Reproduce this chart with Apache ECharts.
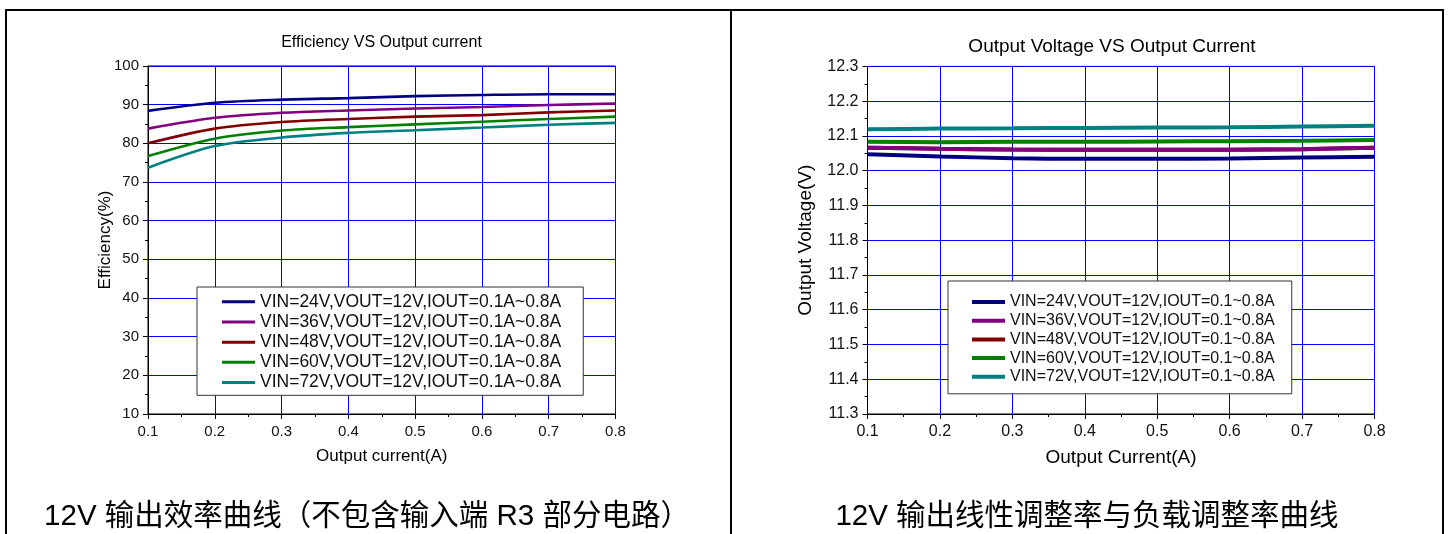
<!DOCTYPE html>
<html>
<head>
<meta charset="utf-8">
<script src="https://cdn.jsdelivr.net/npm/echarts@6/dist/echarts.min.js"></script>
<style>
html,body{margin:0;padding:0;background:#fff;}
#c{width:1451px;height:534px;}
</style>
</head>
<body>
<div id="c"></div>
<script>
// ---------- data ----------
const currents = [0.1, 0.2, 0.3, 0.4, 0.5, 0.6, 0.7, 0.8];

const effNames = [
  'VIN=24V,VOUT=12V,IOUT=0.1A~0.8A',
  'VIN=36V,VOUT=12V,IOUT=0.1A~0.8A',
  'VIN=48V,VOUT=12V,IOUT=0.1A~0.8A',
  'VIN=60V,VOUT=12V,IOUT=0.1A~0.8A',
  'VIN=72V,VOUT=12V,IOUT=0.1A~0.8A'
];
const eff24 = [88.4, 90.5, 91.3, 91.7, 92.2, 92.5, 92.7, 92.7];
const eff36 = [83.8, 86.6, 87.9, 88.5, 89.0, 89.4, 89.9, 90.3];
const eff48 = [80.0, 83.8, 85.5, 86.3, 86.9, 87.3, 88.0, 88.5];
const eff60 = [76.7, 81.2, 83.3, 84.2, 84.9, 85.6, 86.3, 86.9];
const eff72 = [73.7, 79.3, 81.5, 82.7, 83.4, 84.1, 84.8, 85.3];

const voutNames = [
  'VIN=24V,VOUT=12V,IOUT=0.1~0.8A',
  'VIN=36V,VOUT=12V,IOUT=0.1~0.8A',
  'VIN=48V,VOUT=12V,IOUT=0.1~0.8A',
  'VIN=60V,VOUT=12V,IOUT=0.1~0.8A',
  'VIN=72V,VOUT=12V,IOUT=0.1~0.8A'
];
const vout24 = [12.047, 12.041, 12.036, 12.034, 12.034, 12.035, 12.038, 12.040];
const vout36 = [12.066, 12.063, 12.061, 12.060, 12.060, 12.060, 12.062, 12.066];
const vout48 = [12.066, 12.063, 12.061, 12.060, 12.060, 12.060, 12.062, 12.066];
const vout60 = [12.083, 12.082, 12.083, 12.083, 12.084, 12.085, 12.086, 12.088];
const vout72 = [12.119, 12.121, 12.122, 12.123, 12.124, 12.125, 12.127, 12.129];

const colors = ['#000080', '#800080', '#800000', '#008000', '#008080'];

const leftTitle = 'Efficiency VS Output current';
const rightTitle = 'Output Voltage VS Output Current';
const leftXName = 'Output current(A)';
const leftYName = 'Efficiency(%)';
const rightXName = 'Output Current(A)';
const rightYName = 'Output Voltage(V)';
const leftCaption = '12V 输出效率曲线（不包含输入端 R3 部分电路）';
const rightCaption = '12V 输出线性调整率与负载调整率曲线';

// ---------- chart ----------
const FONT = '"Liberation Sans", Arial, "Noto Sans CJK SC", sans-serif';
const chart = echarts.init(document.getElementById('c'), null, {renderer: 'canvas'});

function pairs(vals) { return currents.map((x, i) => [x, vals[i]]); }

function xAxisCfg(gridIndex, name, fs, nfs) {
  return {
    type: 'value', gridIndex, min: 0.1, max: 0.8, interval: 0.1,
    name, nameLocation: 'middle', nameGap: 34,
    nameTextStyle: {fontSize: nfs, color: '#000', fontFamily: FONT},
    axisLine: {show: true, onZero: false, lineStyle: {color: '#000', width: 1}},
    axisTick: {show: true, inside: false, length: 5, lineStyle: {color: '#000'}},
    minorTick: {show: true, splitNumber: 2, length: 3, lineStyle: {color: '#000'}},
    axisLabel: {fontSize: fs, color: '#111', fontFamily: FONT, margin: 10,
      formatter: v => v.toFixed(1)},
    splitLine: {show: true, lineStyle: {color: '#0000ff', width: 1}}
  };
}
function yAxisCfg(gridIndex, name, min, max, interval, dec, fs, nfs, gap) {
  return {
    type: 'value', gridIndex, min, max, interval,
    name, nameLocation: 'middle', nameGap: gap, nameMoveOverlap: false,
    nameTextStyle: {fontSize: nfs, color: '#000', fontFamily: FONT},
    axisLine: {show: true, onZero: false, lineStyle: {color: '#000', width: 1}},
    axisTick: {show: true, inside: false, length: 5, lineStyle: {color: '#000'}},
    minorTick: {show: true, splitNumber: 2, length: 3, lineStyle: {color: '#000'}},
    axisLabel: {fontSize: fs, color: '#111', fontFamily: FONT, margin: 9,
      formatter: v => v.toFixed(dec)},
    splitLine: {show: true, lineStyle: {color: '#0000ff', width: 1}}
  };
}

const effData = [eff24, eff36, eff48, eff60, eff72];
const voutData = [vout24, vout36, vout48, vout60, vout72];

const series = [];
effNames.forEach((n, i) => {
  series.push({
    name: n, type: 'line', xAxisIndex: 0, yAxisIndex: 0,
    data: pairs(effData[i]), smooth: 0.3, showSymbol: false, symbol: 'none',
    lineStyle: {color: colors[i], width: 2.6}, itemStyle: {color: colors[i]},
    z: 2 + i
  });
});
voutNames.forEach((n, i) => {
  series.push({
    name: n, type: 'line', xAxisIndex: 1, yAxisIndex: 1,
    data: pairs(voutData[i]), smooth: 0.3, showSymbol: false, symbol: 'none',
    lineStyle: {color: colors[i], width: 4}, itemStyle: {color: colors[i]},
    z: i === 1 ? 9 : 2 + i
  });
});

const option = {
  animation: false,
  backgroundColor: '#fff',
  title: [
    {text: leftTitle, left: 381.5, top: 35, textAlign: 'center', padding: 0,
     textStyle: {fontSize: 16, fontWeight: 'normal', color: '#000', fontFamily: FONT}},
    {text: rightTitle, left: 1112, top: 37, textAlign: 'center', padding: 0,
     textStyle: {fontSize: 19, fontWeight: 'normal', color: '#000', fontFamily: FONT}}
  ],
  grid: [
    {left: 148, right: 1451 - 615.5, top: 66, bottom: 534 - 414, show: true,
     borderColor: '#000', borderWidth: 1, backgroundColor: 'transparent'},
    {left: 867.5, right: 1451 - 1374.5, top: 66.4, bottom: 534 - 414, show: true,
     borderColor: '#000', borderWidth: 1, backgroundColor: 'transparent'}
  ],
  xAxis: [
    xAxisCfg(0, leftXName, 15, 17),
    xAxisCfg(1, rightXName, 16, 19)
  ],
  yAxis: [
    yAxisCfg(0, leftYName, 10, 100, 10, 0, 15, 17, 34),
    yAxisCfg(1, rightYName, 11.3, 12.3, 0.1, 1, 16, 19, 52)
  ],
  legend: [
    {data: effNames, orient: 'vertical', left: 197, top: 287,
     icon: 'rect', itemWidth: 33, itemHeight: 3, itemGap: 2.7,
     padding: [6, 22, 4, 25], backgroundColor: '#fff', borderColor: '#333', borderWidth: 1,
     borderRadius: 0, selectedMode: false,
     textStyle: {fontSize: 17.5, color: '#111', fontFamily: FONT}},
    {data: voutNames, orient: 'vertical', left: 948, top: 281,
     icon: 'rect', itemWidth: 33, itemHeight: 4, itemGap: 2.7,
     padding: [13, 17, 9, 24], backgroundColor: '#fff', borderColor: '#333', borderWidth: 1,
     borderRadius: 0, selectedMode: false,
     textStyle: {fontSize: 16, color: '#111', fontFamily: FONT}}
  ],
  graphic: [
    {type: 'line', shape: {x1: 5, y1: 10, x2: 1444, y2: 10}, style: {stroke: '#000', lineWidth: 2}},
    {type: 'line', shape: {x1: 6, y1: 10, x2: 6, y2: 534}, style: {stroke: '#000', lineWidth: 2}},
    {type: 'line', shape: {x1: 731, y1: 10, x2: 731, y2: 534}, style: {stroke: '#000', lineWidth: 2}},
    {type: 'line', shape: {x1: 1443, y1: 10, x2: 1443, y2: 534}, style: {stroke: '#000', lineWidth: 2}},
    {type: 'text', x: 367, y: 517,
     style: {text: leftCaption, fill: '#000', font: '29.5px ' + FONT, textAlign: 'center', textVerticalAlign: 'middle'}},
    {type: 'text', x: 1087, y: 517,
     style: {text: rightCaption, fill: '#000', font: '29.5px ' + FONT, textAlign: 'center', textVerticalAlign: 'middle'}}
  ],
  series
};
chart.setOption(option);
</script>
</body>
</html>
